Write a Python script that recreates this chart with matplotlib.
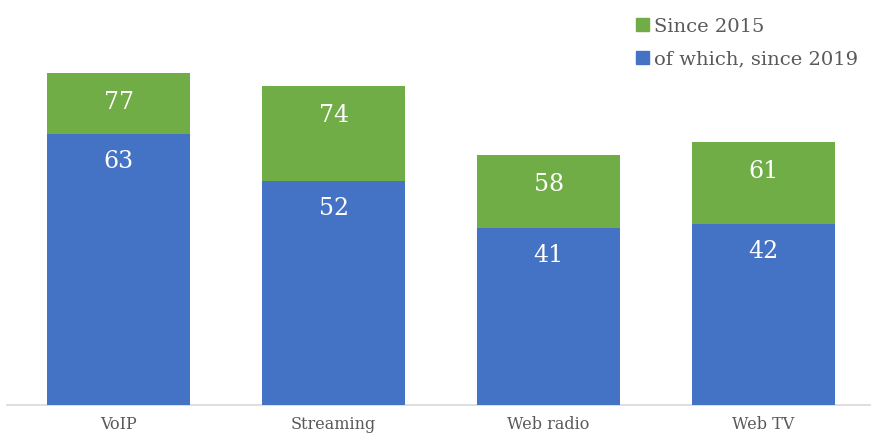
import matplotlib
matplotlib.use("Agg")
import matplotlib.pyplot as plt
from matplotlib.patches import Patch

categories = ["VoIP", "Streaming", "Web radio", "Web TV"]
since_2015 = [77, 74, 58, 61]
since_2019 = [63, 52, 41, 42]

green = "#70AD47"
blue = "#4472C4"
serif = ["DejaVu Serif"]

fig = plt.figure(figsize=(8.71, 4.33), dpi=100)
ax = fig.add_axes([0.008, 0.065, 0.992, 0.935])
x = list(range(len(categories)))
w = 0.664
ax.bar(x, since_2015, width=w, color=green, zorder=2)
ax.bar(x, since_2019, width=w, color=blue, zorder=3)

for xi, a, b in zip(x, since_2015, since_2019):
    ax.text(xi, a - 6.8, f"{a}", ha="center", va="center", color="white",
            fontsize=17, family=serif, zorder=4)
    ax.text(xi, b - 6.4, f"{b}", ha="center", va="center", color="white",
            fontsize=17, family=serif, zorder=4)

ax.set_xlim(-0.52, 3.5)
ax.set_ylim(0, 94)
ax.set_xticks(x)
ax.set_xticklabels(categories, family=serif, fontsize=11.5, color="#595959")
ax.tick_params(axis="x", length=0, pad=8)
ax.set_yticks([])
for s in ["top", "right", "left"]:
    ax.spines[s].set_visible(False)
ax.spines["bottom"].set_color("#D9D9D9")
ax.spines["bottom"].set_linewidth(1.2)

handles = [Patch(color=green, label="Since 2015"), Patch(color=blue, label="of which, since 2019")]
leg = ax.legend(handles=handles, loc="upper right", bbox_to_anchor=(0.999, 0.985), frameon=False,
                prop={"family": serif, "size": 14}, handlelength=0.65, handleheight=0.65,
                handletextpad=0.3, labelspacing=0.75, borderaxespad=0.2)
for t in leg.get_texts():
    t.set_color("#595959")

fig.savefig("out.png", dpi=100)
